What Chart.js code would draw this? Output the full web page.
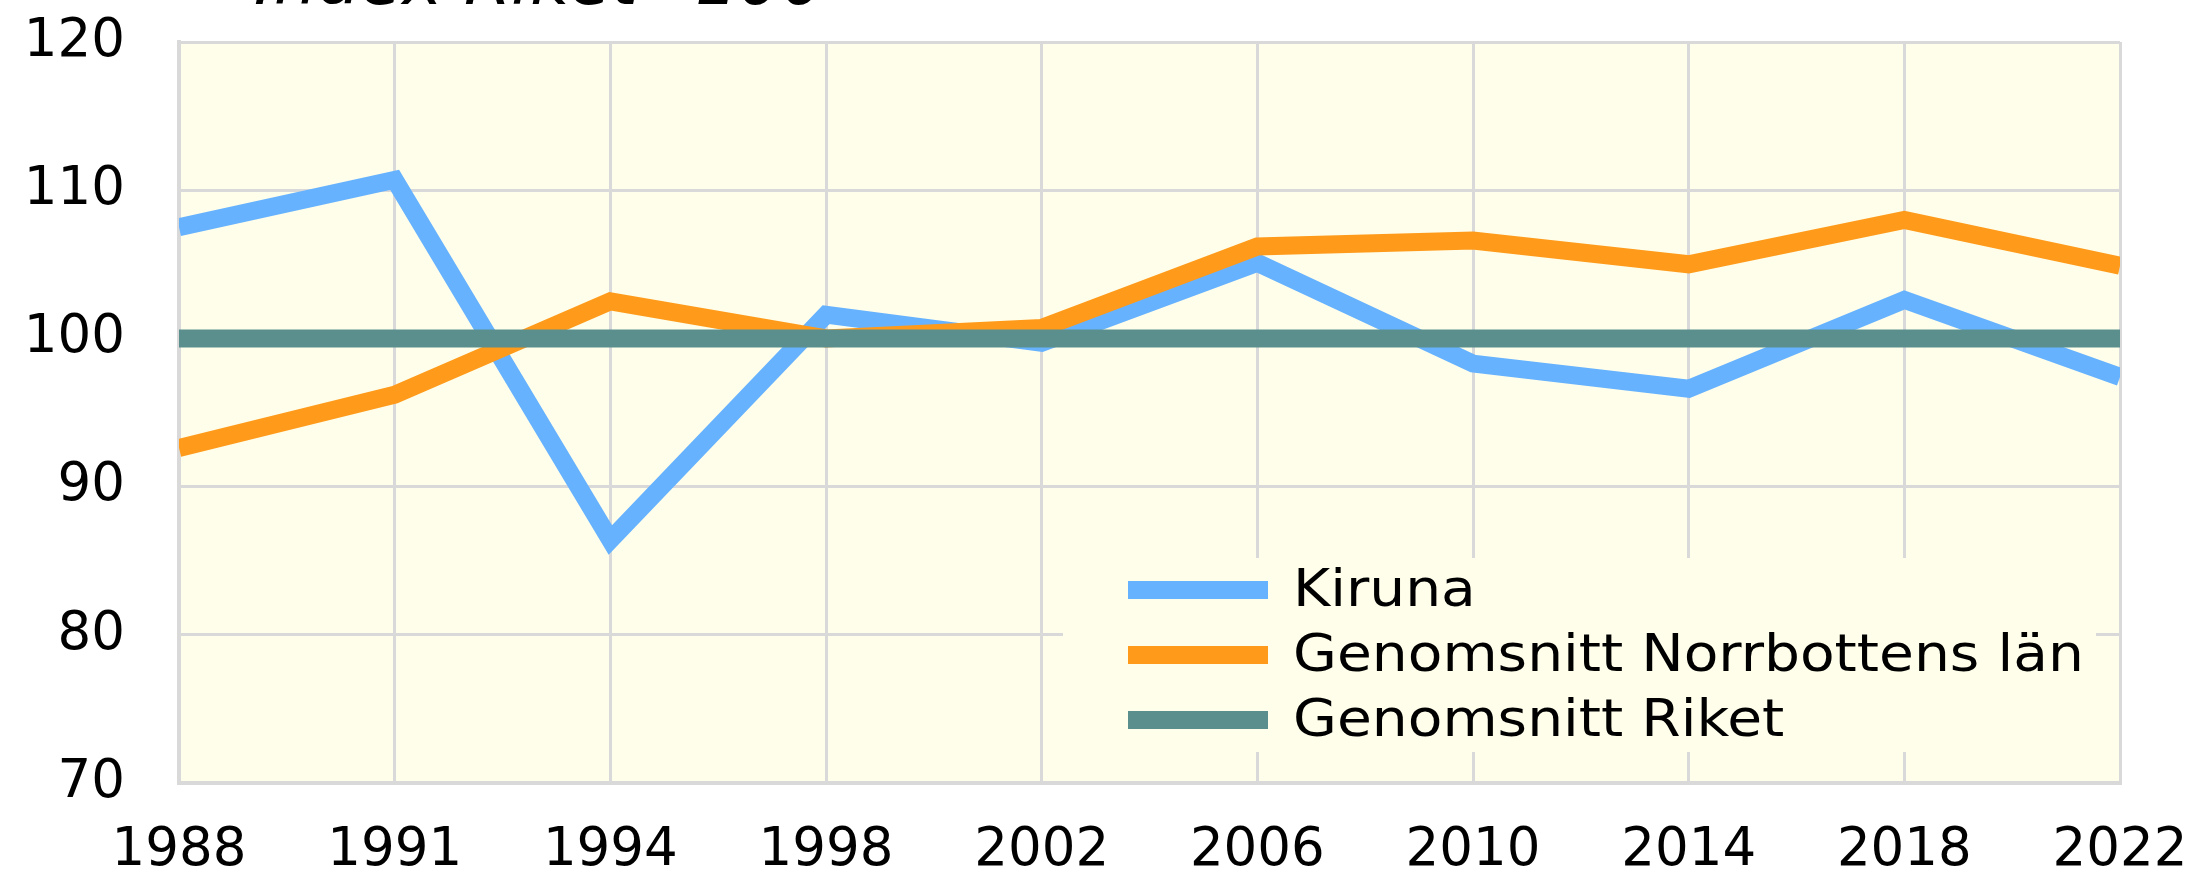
<!DOCTYPE html>
<html>
<head>
<meta charset="utf-8">
<script src="https://cdn.jsdelivr.net/npm/chart.js@4"></script>
<style>
  body { margin: 0; background: #fff; overflow: hidden; }
  #wrap { position: relative; width: 2193px; height: 878px; }
  #title {
    position: absolute; left: 254px; top: -53px;
    font: italic 68px "DejaVu Sans", Verdana, sans-serif;
    line-height: 68px; color: #000; white-space: nowrap;
  }
</style>
</head>
<body>
<div id="wrap">
  <canvas id="chart" width="2193" height="878"></canvas>
  <div id="title">Index Riket=100</div>
</div>
<script>
// --------------------------------
// || Data
// --------------------------------

const years = ['1988', '1991', '1994', '1998', '2002', '2006', '2010', '2014', '2018', '2022'];
const kiruna = [107.5, 110.7, 86.4, 101.6, 99.7, 105.1, 98.3, 96.6, 102.6, 97.4];
const norrbotten = [92.6, 96.2, 102.5, 100.0, 100.7, 106.2, 106.6, 105.0, 108.0, 104.9];
const riket = [100, 100, 100, 100, 100, 100, 100, 100, 100, 100];
const seriesNames = ['Kiruna', 'Genomsnitt Norrbottens län', 'Genomsnitt Riket'];

const yMin = 70;
const yMax = 120;
const yStep = 10;

// --------------------------------
// || Styles
// --------------------------------

const plotBg = '#FFFEEA';
const gridColor = '#D9D9D9';
const colors = ['#66B2FF', '#FF9A1A', '#5B8F8D'];
const fontFamily = '"DejaVu Sans", Verdana, sans-serif';

// plot background behind everything
const plotBackground = {
    id: 'plotBackground',
    beforeDraw(chart) {
        const { ctx, chartArea } = chart;
        ctx.save();
        ctx.fillStyle = plotBg;
        ctx.fillRect(chartArea.left, chartArea.top,
            chartArea.right - chartArea.left, chartArea.bottom - chartArea.top);
        ctx.restore();
    }
};

// legend box sitting inside the plot, bottom right
const boxLegend = {
    id: 'boxLegend',
    afterDraw(chart) {
        const { ctx, chartArea } = chart;
        const left = chartArea.left + 884;
        const top = chartArea.top + 516;
        const right = chartArea.right - 24;
        const bottom = chartArea.bottom - 31;

        ctx.save();
        ctx.fillStyle = plotBg;
        ctx.fillRect(left, top, right - left, bottom - top);

        ctx.font = '52px ' + fontFamily;
        ctx.textBaseline = 'middle';

        chart.data.datasets.forEach((ds, i) => {
            const y = top + 32 + i * 65;
            ctx.fillStyle = ds.borderColor;
            ctx.fillRect(left + 65, y - 9, 140, 18);

            // source font runs a bit wider than DejaVu
            ctx.save();
            ctx.translate(left + 230, y + 2);
            ctx.scale(1.09, 1);
            ctx.fillStyle = '#000';
            ctx.fillText(ds.label, 0, 0);
            ctx.restore();
        });
        ctx.restore();
    }
};

// --------------------------------
// || Chart
// --------------------------------

const lineChart = new Chart(document.getElementById('chart'), {
    type: 'line',
    data: {
        labels: years,
        datasets: [
            { label: seriesNames[0], data: kiruna, borderColor: colors[0], order: 2 },
            { label: seriesNames[1], data: norrbotten, borderColor: colors[1], order: 1 },
            { label: seriesNames[2], data: riket, borderColor: colors[2], order: 0 }
        ].map(ds => Object.assign(ds, {
            borderWidth: 18,
            pointRadius: 0,
            tension: 0,
            fill: false,
            clip: 0,
            borderCapStyle: 'butt',
            borderJoinStyle: 'miter'
        }))
    },
    options: {
        responsive: false,
        animation: false,
        layout: {
            padding: { top: 42, right: 73, left: 0, bottom: 0 }
        },
        plugins: {
            legend: { display: false },
            tooltip: { enabled: false },
            title: { display: false }
        },
        scales: {
            x: {
                offset: false,
                grid: {
                    color: gridColor,
                    lineWidth: 3,
                    drawTicks: false
                },
                border: { color: gridColor, width: 4 },
                ticks: {
                    color: '#000',
                    padding: 36,
                    maxRotation: 0,
                    autoSkip: false,
                    font: { family: fontFamily, size: 53 }
                },
                afterFit(scale) {
                    scale.height = 95;
                    scale.paddingLeft = 0;
                    scale.paddingRight = 0;
                }
            },
            y: {
                min: yMin,
                max: yMax,
                grid: {
                    color: gridColor,
                    lineWidth: 3,
                    drawTicks: false
                },
                border: { color: gridColor, width: 4 },
                ticks: {
                    stepSize: yStep,
                    color: '#000',
                    padding: 54,
                    font: { family: fontFamily, size: 53 }
                },
                afterFit(scale) {
                    scale.width = 179;
                    scale.paddingTop = 0;
                    scale.paddingBottom = 0;
                }
            }
        }
    },
    plugins: [plotBackground, boxLegend]
});
</script>
</body>
</html>
